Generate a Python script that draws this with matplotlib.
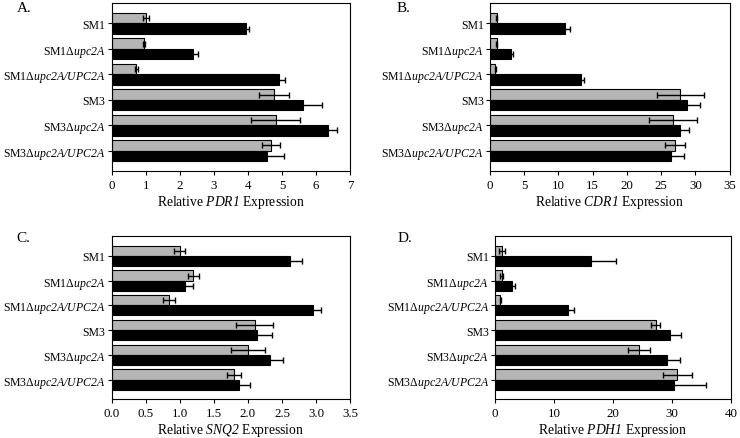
import numpy as np
import matplotlib
matplotlib.use('Agg')
import matplotlib.pyplot as plt

plt.rcParams['font.family'] = ['Liberation Serif', 'DejaVu Serif']
plt.rcParams['mathtext.fontset'] = 'custom'
plt.rcParams['mathtext.rm'] = 'Liberation Serif'
# sf slot used for italic so that digits are italic too
plt.rcParams['mathtext.sf'] = 'Liberation Serif:italic'

strains = ['SM1', r'SM1Δ$\mathsf{upc2A}$', r'SM1Δ$\mathsf{upc2A/UPC2A}$',
           'SM3', r'SM3Δ$\mathsf{upc2A}$', r'SM3Δ$\mathsf{upc2A/UPC2A}$']

# gray (top) and black (bottom) bars, with error values
pdr1_gray = [1.0, 0.95, 0.72, 4.77, 4.82, 4.67]
pdr1_gray_err = [0.08, 0.02, 0.04, 0.43, 0.72, 0.27]
pdr1_black = [3.95, 2.4, 4.92, 5.62, 6.35, 4.57]
pdr1_black_err = [0.07, 0.12, 0.18, 0.55, 0.27, 0.48]

cdr1_gray = [1.0, 1.0, 0.8, 27.8, 26.8, 27.0]
cdr1_gray_err = [0.1, 0.1, 0.1, 3.4, 3.5, 1.5]
cdr1_black = [11.0, 3.1, 13.3, 28.8, 27.8, 26.5]
cdr1_black_err = [0.7, 0.3, 0.4, 1.9, 1.3, 1.9]

snq2_gray = [1.0, 1.2, 0.84, 2.1, 2.0, 1.8]
snq2_gray_err = [0.08, 0.08, 0.09, 0.27, 0.25, 0.1]
snq2_black = [2.62, 1.07, 2.96, 2.14, 2.32, 1.87]
snq2_black_err = [0.18, 0.13, 0.11, 0.22, 0.2, 0.16]

pdh1_gray = [1.1, 1.1, 0.9, 27.2, 24.4, 30.9]
pdh1_gray_err = [0.5, 0.3, 0.1, 0.8, 1.9, 2.4]
pdh1_black = [16.3, 2.8, 12.3, 29.6, 29.2, 30.4]
pdh1_black_err = [4.2, 0.5, 1.1, 1.9, 2.1, 5.3]

panels = [
    ('A.', 'PDR1', pdr1_gray, pdr1_gray_err, pdr1_black, pdr1_black_err,
     np.arange(0, 8, 1), '{:.0f}', [0.151, 0.608, 0.322, 0.383], -0.40, 0.975),
    ('B.', 'CDR1', cdr1_gray, cdr1_gray_err, cdr1_black, cdr1_black_err,
     np.arange(0, 36, 5), '{:.0f}', [0.662, 0.608, 0.324, 0.383], -0.39, 0.975),
    ('C.', 'SNQ2', snq2_gray, snq2_gray_err, snq2_black, snq2_black_err,
     np.arange(0, 3.6, 0.5), '{:.1f}', [0.151, 0.088, 0.322, 0.372], -0.40, 0.99),
    ('D.', 'PDH1', pdh1_gray, pdh1_gray_err, pdh1_black, pdh1_black_err,
     np.arange(0, 41, 10), '{:.0f}', [0.669, 0.088, 0.319, 0.372], -0.413, 0.99),
]

fig = plt.figure(figsize=(7.4, 4.39), dpi=100)
y = np.arange(len(strains))
h = 0.41

for letter, gene, g, ge, b, be, xt, fmt, rect, lx, ly in panels:
    ax = fig.add_axes(rect)
    ax.barh(y - h / 2, g, height=h, color='#b5b5b5', edgecolor='black', linewidth=0.8,
            xerr=ge, error_kw=dict(ecolor='black', elinewidth=1, capsize=2.5, capthick=1))
    ax.barh(y + h / 2, b, height=h, color='black', edgecolor='black', linewidth=0.8,
            xerr=be, error_kw=dict(ecolor='black', elinewidth=1, capsize=2.5, capthick=1))
    ax.set_ylim(5.8, -0.8)
    ax.set_xlim(xt[0], xt[-1])
    ax.set_xticks(xt)
    ax.set_xticklabels([fmt.format(v) for v in xt])
    ax.set_yticks(y)
    ax.set_yticklabels(strains)
    ax.tick_params(axis='both', direction='out', length=3, width=0.8)
    ax.tick_params(axis='y', labelsize=8.5, pad=1.5)
    ax.tick_params(axis='x', labelsize=9.3, pad=2.5)
    ax.set_xlabel('Relative $\\mathsf{' + gene + '}$ Expression', fontsize=9.8, labelpad=1.5)
    for s in ax.spines.values():
        s.set_linewidth(0.8)
    ax.text(lx, ly, letter, transform=ax.transAxes, fontsize=11, va='center')

fig.savefig('out.png', dpi=100)
